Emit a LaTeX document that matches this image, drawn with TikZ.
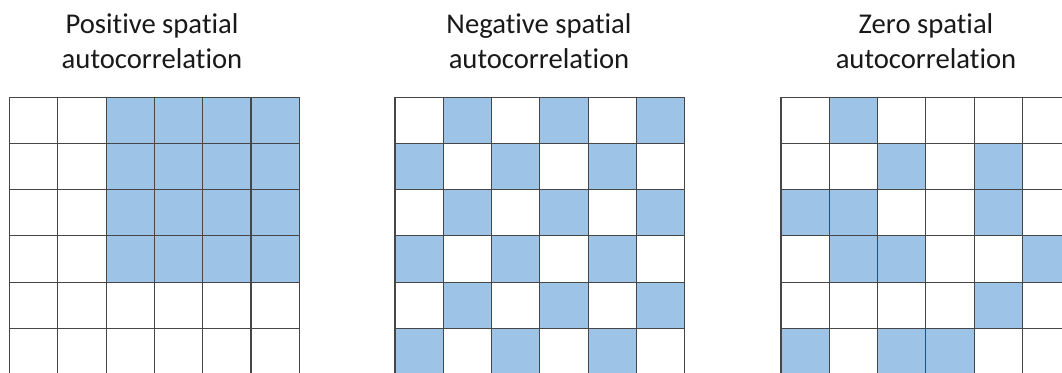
\documentclass[tikz,border=0pt]{standalone}
\usepackage{fontspec}
\setmainfont{Carlito}[Ligatures={NoCommon,NoDiscretionary,NoContextual}]
\definecolor{cellblue}{RGB}{157,195,230}
\definecolor{gridcol}{RGB}{70,70,70}
\begin{document}
\begin{tikzpicture}[x=0.75pt,y=-0.75pt,
  bluecell/.style={fill=cellblue},
  gridline/.style={draw=gridcol,line width=0.8pt},
  title/.style={font=\fontsize{21.5}{26}\selectfont,anchor=base,inner sep=0pt,text=black!90}]
\useasboundingbox (0,0) rectangle (1062,373);
\fill[white] (0,0) rectangle (1062,373);
\clip (0,0) rectangle (1062,373);
\def\cw{48.3}
\def\ch{46.2}
\def\gy{97.3}
% titles
\node[title] (t1a) at (152,33.3) {Positive spatial};
\node[title] (t1b) at (152,68.3) {autocorrelation};
\node[title] (t2a) at (539,33.3) {Negative spatial};
\node[title] (t2b) at (539,68.3) {autocorrelation};
\node[title] (t3a) at (926,33.3) {Zero spatial};
\node[title] (t3b) at (926,68.3) {autocorrelation};
% grid 1 fills
\def\gx{9.5}
\foreach \r in {1,...,4}{
  \foreach \c in {3,...,6}{
    \fill[bluecell] ({\gx+(\c-1)*\cw},{\gy+(\r-1)*\ch}) rectangle ++(\cw,\ch);
  }
}
\foreach \i in {0,...,6}{
  \draw[gridline] ({\gx+\i*\cw},\gy) -- ++(0,{6*\ch});
  \draw[gridline] (\gx,{\gy+\i*\ch}) -- ++({6*\cw},0);
}
% grid 2 fills
\def\gx{395}
\foreach \r in {1,...,6}{
  \foreach \c in {1,...,6}{
    \pgfmathtruncatemacro{\odd}{mod(\r+\c,2)}
    \ifnum\odd=1
      \fill[bluecell] ({\gx+(\c-1)*\cw},{\gy+(\r-1)*\ch}) rectangle ++(\cw,\ch);
    \fi
  }
}
\foreach \i in {0,...,6}{
  \draw[gridline] ({\gx+\i*\cw},\gy) -- ++(0,{6*\ch});
  \draw[gridline] (\gx,{\gy+\i*\ch}) -- ++({6*\cw},0);
}
% grid 3 fills
\def\gx{781}
\foreach \r/\c in {1/2,2/3,2/5,3/1,3/2,3/5,4/2,4/3,4/6,5/5,6/1,6/3,6/4}{
  \fill[bluecell] ({\gx+(\c-1)*\cw},{\gy+(\r-1)*\ch}) rectangle ++(\cw,\ch);
}
\foreach \i in {0,...,6}{
  \draw[gridline] ({\gx+\i*\cw},\gy) -- ++(0,{6*\ch});
  \draw[gridline] (\gx,{\gy+\i*\ch}) -- ++({6*\cw},0);
}
\end{tikzpicture}
\end{document}
